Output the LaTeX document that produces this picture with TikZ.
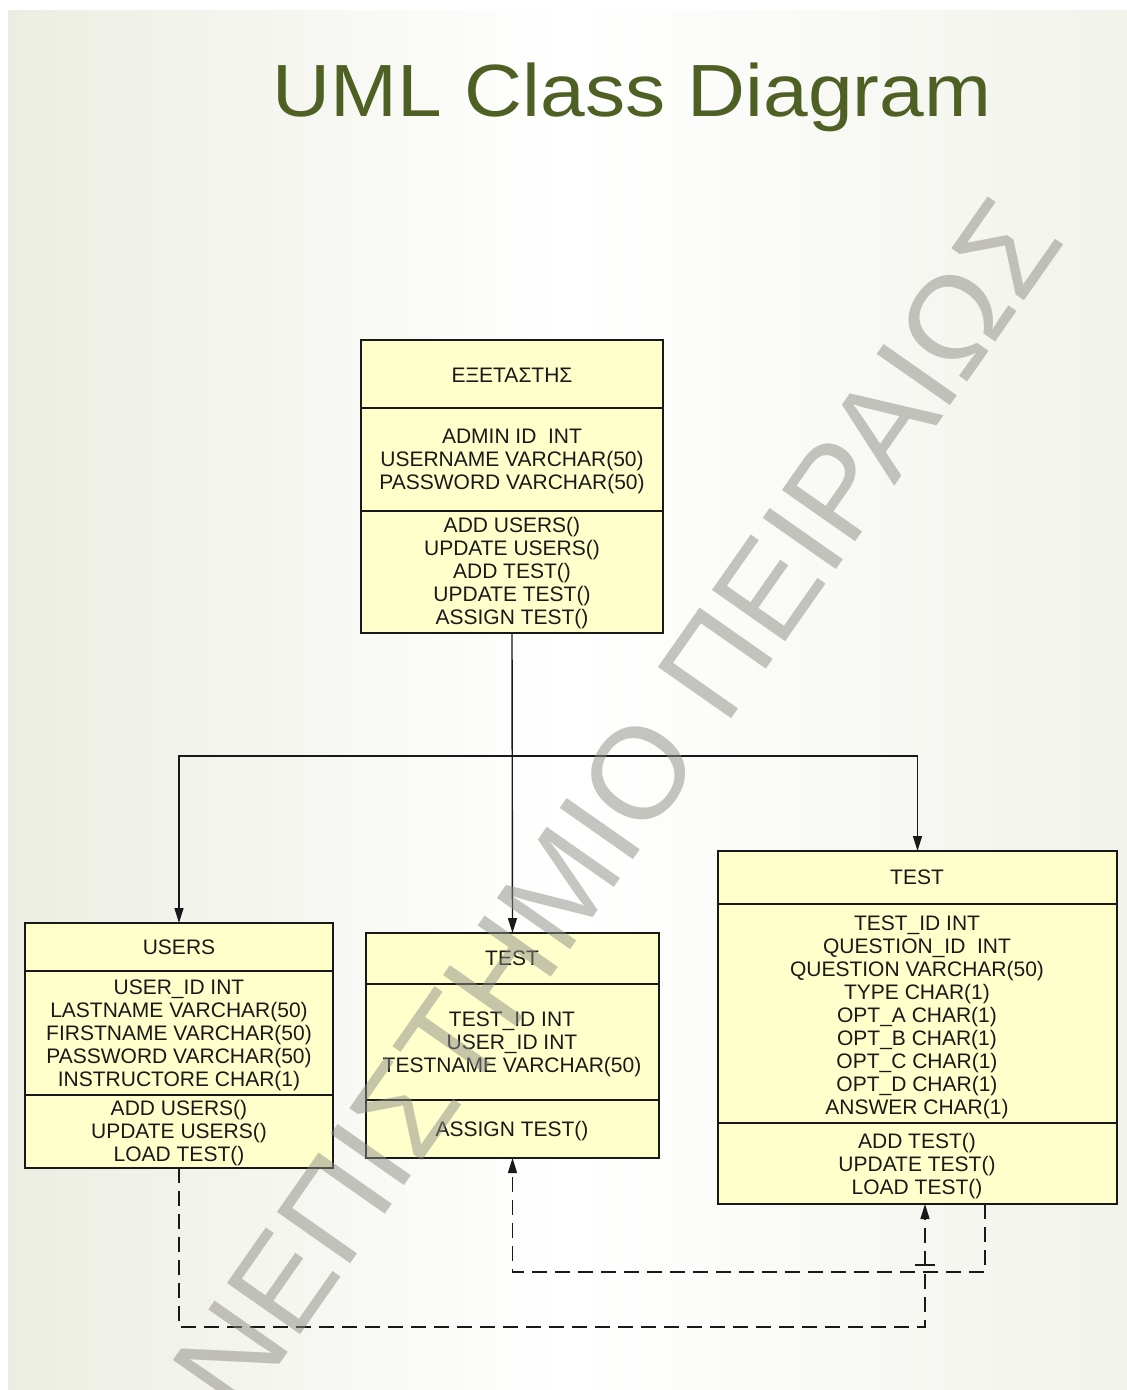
\documentclass[tikz,border=0pt]{standalone}
\usepackage{fontspec}
\setmainfont{Liberation Sans}
\usetikzlibrary{arrows.meta,calc}
\definecolor{boxfill}{RGB}{255,255,204}
\definecolor{titlecol}{RGB}{79,96,36}
\definecolor{bgside}{RGB}{236,237,226}
\definecolor{wmark}{RGB}{140,140,132}
\definecolor{ink}{RGB}{25,25,25}
\begin{document}
\begin{tikzpicture}[x=1pt,y=-1pt,
  classbox/.style={draw=ink, line width=1.3pt, fill=boxfill, inner sep=0pt, outer sep=0pt, anchor=north west},
  divider/.style={draw=ink, line width=1.3pt},
  txt/.style={inner sep=0pt, align=center, text=ink, font=\fontsize{21}{23}\selectfont},
  conn/.style={draw=ink, line width=1.4pt, -{Triangle[length=15pt,width=9pt]}},
  plainconn/.style={draw=ink, line width=1.4pt},
  dconn/.style={draw=ink, line width=1.4pt, dash pattern=on 15pt off 8pt, -{Triangle[length=15pt,width=9pt]}},
  wm/.style={inner sep=0pt, text=wmark, text opacity=0.5, font=\fontsize{130}{130}\selectfont}
]
\useasboundingbox (0,0) rectangle (1127,1390);
\fill[white] (0,0) rectangle (1127,1390);
\shade[left color=bgside, right color=bgside!70!white, middle color=white] (8,10) rectangle (1127,1390);

% title
\node[inner sep=0pt, text=titlecol, xscale=1.085, font=\fontsize{74}{74}\selectfont] (title) at (632,97) {UML Class Diagram};

% ---- EXETASTIS box
\node[classbox, minimum width=302pt, minimum height=293pt] (ex) at (361,340) {};
\draw[divider] (ex.west |- 0,408) -- (ex.east |- 0,408);
\draw[divider] (ex.west |- 0,511) -- (ex.east |- 0,511);
\node[txt] (ext) at (512,375) {ΕΞΕΤΑΣΤΗΣ};
\node[txt] (exa) at (512,461) {ADMIN ID\ \ INT\\USERNAME VARCHAR(50)\\PASSWORD VARCHAR(50)};
\node[txt] (exo) at (512,573) {ADD USERS()\\UPDATE USERS()\\ADD TEST()\\UPDATE TEST()\\ASSIGN TEST()};

% ---- USERS box
\node[classbox, minimum width=308pt, minimum height=245pt] (us) at (25,923) {};
\draw[divider] (us.west |- 0,971) -- (us.east |- 0,971);
\draw[divider] (us.west |- 0,1095) -- (us.east |- 0,1095);
\node[txt] (ust) at (179,947) {USERS};
\node[txt] (usa) at (179,1035) {USER\_ID INT\\LASTNAME VARCHAR(50)\\FIRSTNAME VARCHAR(50)\\PASSWORD VARCHAR(50)\\INSTRUCTORE CHAR(1)};
\node[txt] (uso) at (179,1133) {ADD USERS()\\UPDATE USERS()\\LOAD TEST()};

% ---- middle TEST box
\node[classbox, minimum width=293pt, minimum height=225pt] (mt) at (366,933) {};
\draw[divider] (mt.west |- 0,984) -- (mt.east |- 0,984);
\draw[divider] (mt.west |- 0,1100) -- (mt.east |- 0,1100);
\node[txt] (mtt) at (512,958) {TEST};
\node[txt] (mta) at (512,1044) {TEST\_ID INT\\USER\_ID INT\\TESTNAME VARCHAR(50)};
\node[txt] (mto) at (512,1131) {ASSIGN TEST()};

% ---- right TEST box
\node[classbox, minimum width=399pt, minimum height=353pt] (tr) at (718,851) {};
\draw[divider] (tr.west |- 0,904) -- (tr.east |- 0,904);
\draw[divider] (tr.west |- 0,1123) -- (tr.east |- 0,1123);
\node[txt] (trt) at (917,877) {TEST};
\node[txt] (tra) at (917,1017) {TEST\_ID INT\\QUESTION\_ID\ \ INT\\QUESTION VARCHAR(50)\\TYPE CHAR(1)\\OPT\_A CHAR(1)\\OPT\_B CHAR(1)\\OPT\_C CHAR(1)\\OPT\_D CHAR(1)\\ANSWER CHAR(1)};
\node[txt] (tro) at (917,1166) {ADD TEST()\\UPDATE TEST()\\LOAD TEST()};

% ---- solid connectors
\coordinate (j) at (ex.south |- 0,756);
\draw[conn] (ex.south) -- (mt.north);
\draw[conn] (j) -| (us.north);
\draw[conn] (j) -| (tr.north);

% ---- dashed connectors
\coordinate (trA) at ($(tr.south)+(7.5,0)$);
\coordinate (trB) at ($(tr.south)+(67.5,0)$);
\draw[dconn] (us.south) -- ++(0,159) -| (trA);
\draw[dconn] (trB) -- ++(0,68) -| (mt.south);
\draw[plainconn] ($(trA)+(-10,61)$) -- ($(trA)+(10,61)$);

% ---- watermark
\node[wm, rotate=55] (wmk) at (565,879) {ΠΑΝΕΠΙΣΤΗΜΙΟ ΠΕΙΡΑΙΩΣ};
\end{tikzpicture}
\end{document}
